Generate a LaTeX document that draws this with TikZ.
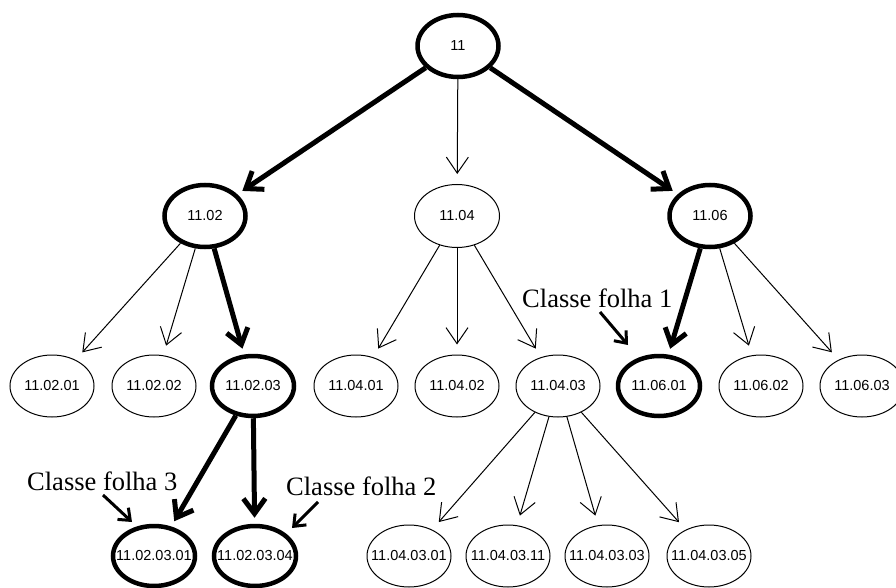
\documentclass[tikz,border=0pt]{standalone}
\usepackage{fontspec}
\setmainfont{Liberation Serif}
\newfontfamily\nodefont{Liberation Sans}
\usetikzlibrary{shapes.geometric,arrows.meta}
\newcommand{\nlab}[1]{\makebox[0pt]{#1}}
\begin{document}
\begin{tikzpicture}[x=1pt,y=-1pt,
  nd/.style={ellipse, draw, line width=1pt, minimum width=84pt, minimum height=62pt, inner sep=0pt,
    font=\nodefont\fontsize{14.5}{16}\selectfont},
  bnd/.style={nd, line width=4.5pt, minimum width=82pt, minimum height=60pt},
  n2/.style={nd, minimum width=85pt, minimum height=63pt},
  bn2/.style={nd, line width=4.5pt, minimum width=81pt, minimum height=62pt},
  tarr/.style={-{Straight Barb[length=16pt,width=22pt]}, line width=1pt, shorten >=10pt},
  barr/.style={-{Straight Barb[length=15pt,width=22pt]}, line width=5pt, shorten >=6pt},
  lbl/.style={font=\fontsize{26.5}{30}\selectfont, anchor=base west, inner sep=0pt},
  larr/.style={-{Straight Barb[length=10pt,width=16pt]}, line width=3pt}
]
\useasboundingbox (0,0) rectangle (896,588);
% level 1
\node[bn2] (n11) at (458,46) {\nlab{11}};
% level 2
\node[bn2] (n1102) at (205,216) {\nlab{11.02}};
\node[n2]  (n1104) at (457,216) {\nlab{11.04}};
\node[bn2] (n1106) at (710,216) {\nlab{11.06}};
% level 3
\node[nd]  (n110201) at (52,386)  {\nlab{11.02.01}};
\node[nd]  (n110202) at (154,386) {\nlab{11.02.02}};
\node[bnd] (n110203) at (253,386) {\nlab{11.02.03}};
\node[nd]  (n110401) at (356,386) {\nlab{11.04.01}};
\node[nd]  (n110402) at (457,386) {\nlab{11.04.02}};
\node[nd]  (n110403) at (558,386) {\nlab{11.04.03}};
\node[bnd] (n110601) at (659,386) {\nlab{11.06.01}};
\node[nd]  (n110602) at (761,386) {\nlab{11.06.02}};
\node[nd]  (n110603) at (862,386) {\nlab{11.06.03}};
% level 4
\node[bnd] (n11020301) at (154,556) {\nlab{11.02.03.01}};
\node[bnd] (n11020304) at (255,556) {\nlab{11.02.03.04}};
\node[nd]  (n11040301) at (409,556) {\nlab{11.04.03.01}};
\node[nd]  (n11040311) at (508,556) {\nlab{11.04.03.11}};
\node[nd]  (n11040303) at (607,556) {\nlab{11.04.03.03}};
\node[nd]  (n11040305) at (709,556) {\nlab{11.04.03.05}};
% labels
\node[lbl] (l1) at (522,307) {Classe folha 1};
\node[lbl] (l3) at (27,490) {Classe folha 3};
\node[lbl] (l2) at (286,495) {Classe folha 2};
\coordinate (l1s) at (600,312);
\coordinate (l1e) at (628,345);
\coordinate (l3s) at (103,495);
\coordinate (l3e) at (132,522);
\coordinate (l2s) at (318,502);
\coordinate (l2e) at (292,528);
% thick edges
\draw[barr] (n11) -- (n1102);
\draw[barr] (n11) -- (n1106);
\draw[barr] (n1102) -- (n110203);
\draw[barr] (n110203) -- (n11020301);
\draw[barr] (n110203) -- (n11020304);
\draw[barr] (n1106) -- (n110601);
% thin edges
\draw[tarr] (n11) -- (n1104);
\draw[tarr] (n1102) -- (n110201);
\draw[tarr] (n1102) -- (n110202);
\draw[tarr] (n1104) -- (n110401);
\draw[tarr] (n1104) -- (n110402);
\draw[tarr] (n1104) -- (n110403);
\draw[tarr] (n1106) -- (n110602);
\draw[tarr] (n1106) -- (n110603);
\draw[tarr] (n110403) -- (n11040301);
\draw[tarr] (n110403) -- (n11040311);
\draw[tarr] (n110403) -- (n11040303);
\draw[tarr] (n110403) -- (n11040305);
% label arrows
\draw[larr] (l1s) -- (l1e);
\draw[larr] (l3s) -- (l3e);
\draw[larr] (l2s) -- (l2e);
\end{tikzpicture}
\end{document}
